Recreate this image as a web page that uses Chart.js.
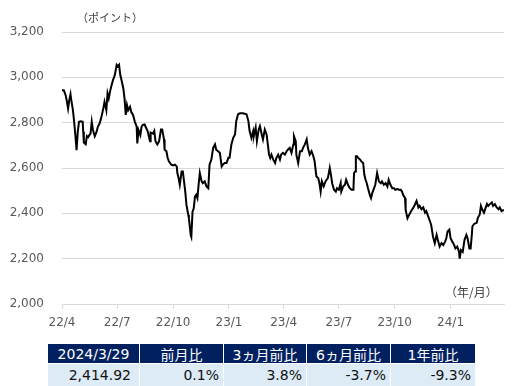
<!DOCTYPE html>
<html>
<head>
<meta charset="utf-8">
<script src="https://cdn.jsdelivr.net/npm/chart.js@4/dist/chart.umd.min.js"></script>
<style>
  body { margin: 0; background: #fff; }
  #wrap { position: relative; width: 529px; height: 386px; overflow: hidden; }
  #chartBox { position: absolute; left: 0; top: 0; width: 529px; height: 340px; }
  .note { position: absolute; font: 11px "Noto Sans CJK JP", sans-serif; color: #404040; white-space: nowrap; line-height: 1; }
  #stats {
    position: absolute; left: 48px; top: 344px;
    display: grid; grid-template-columns: 91px 83px 82px 83px 84px;
    grid-template-rows: 19px 22px; gap: 1px;
    font: 14px "DejaVu Sans", "Noto Sans CJK JP", sans-serif;
  }
  #stats div { display: flex; align-items: center; white-space: nowrap; }
  #stats .head { background: #002060; color: #fff; justify-content: center; }
  #stats .val { background: #ddebf7; color: #111; justify-content: flex-end; padding-right: 4px; }
  #stats .val.first { padding-right: 8px; }
</style>
</head>
<body>
<div id="wrap">
  <div id="chartBox"><canvas id="c" width="529" height="340"></canvas></div>
  <div class="note" style="left:77px; top:12px;">（ポイント）</div>
  <div class="note" style="left:445px; top:286px; font-size:12px;">（年/月）</div>
  <div id="stats"></div>
</div>
<script>
// days counted from 2022/4/1
var days = [
  0, 3, 6, 8, 10, 12, 14, 15, 18, 20,
  22, 24, 26, 28, 31, 34, 35, 36, 39, 41,
  43, 45, 47, 49, 51, 54, 57, 59, 62, 65,
  68, 70, 73, 75, 77, 79, 81, 84, 87, 90,
  92, 94, 96, 98, 101, 103, 105, 107, 109, 112,
  114, 117, 120, 123, 124, 126, 129, 131, 133, 136,
  141, 145, 146, 150, 152, 154, 157, 160, 163, 165,
  168, 169, 172, 174, 176, 178, 180, 183, 186, 189,
  190, 192, 194, 197, 199, 201, 203, 205, 208, 209,
  212, 213, 215, 217, 219, 221, 223, 225, 227, 230,
  232, 235, 238, 241, 243, 246, 249, 252, 254, 257,
  260, 263, 265, 268, 271, 274, 276, 279, 282, 285,
  287, 290, 293, 298, 304, 307, 309, 312, 315, 316,
  319, 321, 324, 326, 329, 331, 334, 337, 339, 341,
  343, 345, 348, 351, 353, 356, 359, 361, 364, 367,
  370, 372, 375, 378, 381, 382, 385, 386, 389, 392,
  395, 397, 400, 403, 405, 408, 411, 414, 416, 419,
  422, 424, 426, 428, 431, 434, 438, 441, 443, 445,
  448, 451, 453, 456, 459, 460, 463, 466, 468, 471,
  474, 477, 480, 481, 483, 484, 486, 488, 491, 493,
  496, 498, 500, 502, 504, 507, 509, 511, 514, 516,
  519, 522, 525, 527, 530, 533, 536, 538, 541, 544,
  547, 549, 552, 555, 558, 560, 562, 565, 566, 569,
  571, 573, 576, 578, 581, 584, 587, 589, 592, 595,
  598, 600, 603, 606, 608, 611, 614, 617, 619, 622,
  625, 628, 631, 633, 635, 638, 640, 643, 646, 648,
  651, 654, 655, 657, 660, 663, 666, 668, 671, 673,
  675, 676, 679, 683, 685, 688, 690, 692, 695, 698,
  700, 702, 705, 708, 710, 713, 716, 719, 721, 724,
  728
];

var indexValues = [
  2943, 2943, 2921, 2895, 2862, 2899, 2925, 2905, 2855, 2804,
  2745, 2679, 2760, 2804, 2806, 2804, 2760, 2712, 2705, 2741,
  2736, 2745, 2752, 2804, 2768, 2740, 2760, 2782, 2797, 2826,
  2862, 2892, 2855, 2929, 2907, 2936, 2958, 2988, 3010, 3055,
  3048, 3055, 3010, 2988, 2951, 2907, 2834, 2878, 2855, 2870,
  2848, 2834, 2804, 2782, 2708, 2767, 2745, 2782, 2790, 2792,
  2763, 2718, 2756, 2751, 2763, 2718, 2704, 2718, 2770, 2770,
  2726, 2681, 2674, 2645, 2630, 2622, 2615, 2611, 2615, 2607,
  2578, 2556, 2526, 2585, 2585, 2541, 2496, 2437, 2393, 2378,
  2304, 2296, 2407, 2422, 2474, 2482, 2467, 2526, 2578, 2541,
  2533, 2541, 2519, 2511, 2615, 2637, 2689, 2704, 2681, 2674,
  2667, 2607, 2615, 2622, 2622, 2645, 2645, 2704, 2733, 2748,
  2807, 2837, 2841, 2841, 2837, 2807, 2763, 2733, 2763, 2741,
  2778, 2718, 2770, 2785, 2748, 2726, 2770, 2748, 2704, 2659,
  2644, 2659, 2637, 2622, 2644, 2659, 2637, 2659, 2667, 2659,
  2674, 2681, 2689, 2667, 2704, 2741, 2718, 2659, 2622, 2674,
  2674, 2689, 2704, 2726, 2689, 2659, 2674, 2652, 2630, 2563,
  2556, 2533, 2496, 2541, 2519, 2541, 2556, 2600, 2570, 2533,
  2504, 2496, 2511, 2504, 2533, 2496, 2518, 2526, 2548, 2526,
  2511, 2504, 2504, 2578, 2585, 2652, 2652, 2644, 2637, 2629,
  2622, 2570, 2548, 2533, 2511, 2481, 2467, 2489, 2511, 2526,
  2578, 2541, 2533, 2541, 2526, 2533, 2518, 2548, 2526, 2511,
  2511, 2504, 2507, 2504, 2504, 2496, 2481, 2467, 2415, 2378,
  2389, 2400, 2415, 2422, 2437, 2455, 2426, 2433, 2418, 2426,
  2403, 2410, 2388, 2365, 2350, 2298, 2268, 2305, 2283, 2253,
  2268, 2260, 2275, 2290, 2320, 2328, 2290, 2275, 2260, 2245,
  2253, 2230, 2200, 2238, 2230, 2283, 2305, 2290, 2245, 2245,
  2305, 2343, 2354, 2358, 2380, 2395, 2433, 2418, 2403, 2426,
  2441, 2433, 2441, 2448, 2433, 2441, 2426, 2418, 2426, 2410,
  2414.92
];

// quarter starts (days from 2022/4/1) and their labels
var tickDays = [0, 91, 183, 275, 365, 456, 548, 640];
var tickLabels = ["22/4", "22/7", "22/10", "23/1", "23/4", "23/7", "23/10", "24/1"];

var tableHeaders = ["2024/3/29", "前月比", "3ヵ月前比", "6ヵ月前比", "1年前比"];
var tableValues = ["2,414.92", "0.1%", "3.8%", "-3.7%", "-9.3%"];

// summary table under the chart
var stats = document.getElementById("stats");
tableHeaders.forEach(function (t) {
  var d = document.createElement("div");
  d.className = "head";
  d.textContent = t;
  stats.appendChild(d);
});
tableValues.forEach(function (t, i) {
  var d = document.createElement("div");
  d.className = i === 0 ? "val first" : "val";
  d.textContent = t;
  stats.appendChild(d);
});

var points = days.map(function (d, i) {
  return { x: d, y: indexValues[i] };
});

var tickFont = { family: "'DejaVu Sans', sans-serif", size: 12 };

new Chart(document.getElementById("c"), {
  type: "line",
  data: {
    datasets: [
      {
        data: points,
        borderColor: "#000",
        borderWidth: 2,
        pointRadius: 0,
        tension: 0,
        fill: false,
      },
    ],
  },
  options: {
    responsive: false,
    animation: false,
    devicePixelRatio: 1,
    layout: { padding: { top: 32, right: 25, left: 0, bottom: 0 } },
    plugins: { legend: { display: false }, tooltip: { enabled: false } },
    scales: {
      x: {
        type: "linear",
        min: 0,
        max: 728,
        afterBuildTicks: function (scale) {
          scale.ticks = tickDays.map(function (v) { return { value: v }; });
        },
        afterFit: function (scale) { scale.height = 36; },
        ticks: {
          autoSkip: false,
          maxRotation: 0,
          padding: 7,
          color: "#595959",
          font: tickFont,
          callback: function (v, i) { return tickLabels[i]; },
        },
        grid: { drawOnChartArea: false, drawTicks: true, tickLength: 5, color: "#d9d9d9" },
        border: { display: true, color: "#d9d9d9" },
      },
      y: {
        min: 2000,
        max: 3200,
        afterFit: function (scale) { scale.width = 62; },
        ticks: {
          stepSize: 200,
          padding: 18,
          color: "#595959",
          font: tickFont,
          callback: function (v) { return v.toLocaleString("en-US"); },
        },
        grid: { drawTicks: false, color: "#d9d9d9" },
        border: { display: false },
      },
    },
  },
});
</script>
</body>
</html>
